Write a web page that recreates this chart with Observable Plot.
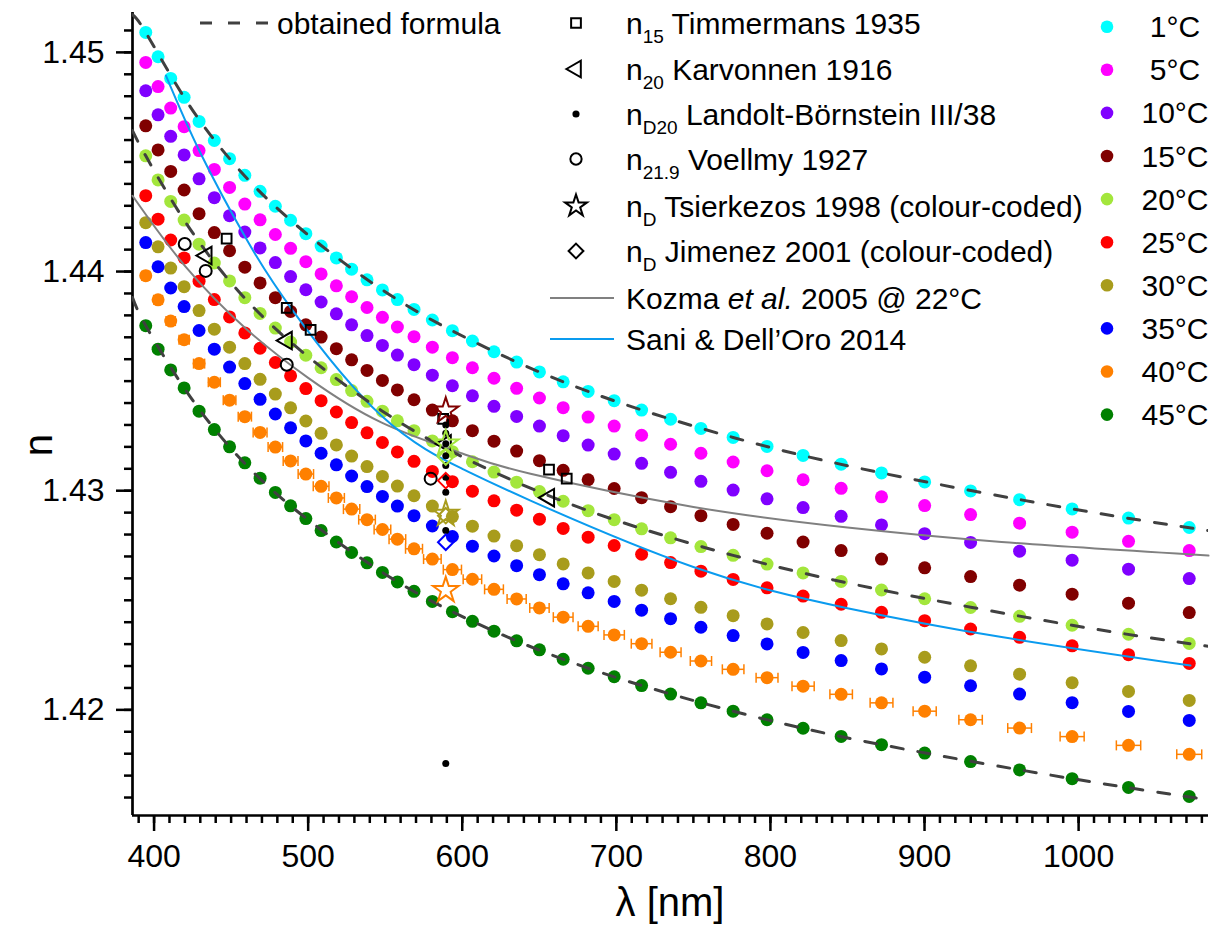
<!DOCTYPE html>
<html><head><meta charset="utf-8">
<script src="https://cdn.jsdelivr.net/npm/d3@7"></script>
<script src="https://cdn.jsdelivr.net/npm/@observablehq/plot@0.6"></script>
<style>
body{margin:0;background:#fff}
#chart svg{font-family:Arial,"Liberation Sans",sans-serif}
</style>
</head><body><div id="chart"></div>
<script>
// Temperature series (°C) and their colours
const temperatures = [1, 5, 10, 15, 20, 25, 30, 35, 40, 45];
const seriesColors = ["#00FFFF", "#FF00FF", "#8000FF", "#800000", "#A3E63C", "#FF0000", "#A89C1C", "#0000FF", "#FF8000", "#008000"];

// Measurement wavelengths (nm)
const wavelengths = [394.6, 402.6, 410.8, 419.5, 429.2, 439.1, 449.0, 458.9, 468.8, 478.7, 488.6, 498.5, 508.4, 518.3, 528.2, 538.2, 548.2, 557.9, 568.7, 580.6, 593.6, 606.6, 620.6, 635.3, 650.1, 665.5, 681.7, 698.6, 716.4, 735.2, 754.9, 775.8, 797.8, 821.2, 845.9, 872.1, 900.1, 929.9, 961.7, 995.8, 1032.4, 1071.8];

// Refractive index at each wavelength, one list per temperature
const n01 = [1.45091, 1.44980, 1.44881, 1.44795, 1.44685, 1.44598, 1.44515, 1.44439, 1.44366, 1.44298, 1.44234, 1.44173, 1.44116, 1.44062, 1.44011, 1.43962, 1.43916, 1.43872, 1.43827, 1.43779, 1.43730, 1.43683, 1.43634, 1.43587, 1.43542, 1.43497, 1.43453, 1.43411, 1.43368, 1.43326, 1.43284, 1.43243, 1.43202, 1.43161, 1.43121, 1.43081, 1.43040, 1.42999, 1.42959, 1.42917, 1.42875, 1.42832];
const n05 = [1.44954, 1.44844, 1.44746, 1.44661, 1.44552, 1.44466, 1.44384, 1.44308, 1.44236, 1.44169, 1.44106, 1.44045, 1.43989, 1.43935, 1.43885, 1.43836, 1.43791, 1.43747, 1.43703, 1.43655, 1.43607, 1.43561, 1.43513, 1.43467, 1.43423, 1.43379, 1.43336, 1.43295, 1.43253, 1.43212, 1.43171, 1.43131, 1.43091, 1.43050, 1.43011, 1.42972, 1.42932, 1.42891, 1.42852, 1.42811, 1.42769, 1.42727];
const n10 = [1.44825, 1.44715, 1.44617, 1.44532, 1.44423, 1.44337, 1.44255, 1.44180, 1.44108, 1.44041, 1.43977, 1.43917, 1.43861, 1.43807, 1.43757, 1.43708, 1.43663, 1.43619, 1.43575, 1.43527, 1.43479, 1.43433, 1.43385, 1.43339, 1.43295, 1.43251, 1.43208, 1.43167, 1.43125, 1.43084, 1.43043, 1.43003, 1.42963, 1.42923, 1.42883, 1.42844, 1.42804, 1.42764, 1.42724, 1.42683, 1.42642, 1.42599];
const n15 = [1.44665, 1.44555, 1.44457, 1.44372, 1.44264, 1.44178, 1.44095, 1.44020, 1.43948, 1.43881, 1.43818, 1.43757, 1.43701, 1.43648, 1.43597, 1.43549, 1.43503, 1.43460, 1.43415, 1.43368, 1.43319, 1.43274, 1.43226, 1.43181, 1.43137, 1.43093, 1.43050, 1.43010, 1.42968, 1.42927, 1.42886, 1.42846, 1.42806, 1.42766, 1.42727, 1.42688, 1.42648, 1.42608, 1.42569, 1.42528, 1.42487, 1.42444];
const n20 = [1.44528, 1.44418, 1.44320, 1.44235, 1.44125, 1.44039, 1.43957, 1.43881, 1.43809, 1.43742, 1.43678, 1.43618, 1.43561, 1.43507, 1.43457, 1.43408, 1.43363, 1.43319, 1.43274, 1.43227, 1.43178, 1.43132, 1.43085, 1.43039, 1.42996, 1.42952, 1.42909, 1.42868, 1.42826, 1.42785, 1.42745, 1.42705, 1.42665, 1.42625, 1.42586, 1.42547, 1.42507, 1.42467, 1.42427, 1.42386, 1.42345, 1.42303];
const n25 = [1.44346, 1.44239, 1.44144, 1.44062, 1.43956, 1.43872, 1.43793, 1.43720, 1.43650, 1.43585, 1.43524, 1.43466, 1.43411, 1.43359, 1.43311, 1.43264, 1.43220, 1.43177, 1.43134, 1.43088, 1.43041, 1.42998, 1.42954, 1.42911, 1.42870, 1.42828, 1.42788, 1.42750, 1.42710, 1.42672, 1.42633, 1.42595, 1.42557, 1.42519, 1.42482, 1.42445, 1.42407, 1.42369, 1.42331, 1.42292, 1.42252, 1.42212];
const n30 = [1.44223, 1.44113, 1.44016, 1.43931, 1.43822, 1.43737, 1.43655, 1.43580, 1.43508, 1.43441, 1.43378, 1.43318, 1.43262, 1.43209, 1.43158, 1.43110, 1.43065, 1.43021, 1.42977, 1.42930, 1.42882, 1.42838, 1.42793, 1.42749, 1.42708, 1.42666, 1.42625, 1.42586, 1.42546, 1.42507, 1.42468, 1.42430, 1.42392, 1.42353, 1.42316, 1.42278, 1.42240, 1.42201, 1.42163, 1.42124, 1.42084, 1.42043];
const n35 = [1.44132, 1.44022, 1.43925, 1.43840, 1.43731, 1.43646, 1.43564, 1.43489, 1.43417, 1.43350, 1.43287, 1.43227, 1.43171, 1.43118, 1.43067, 1.43019, 1.42974, 1.42930, 1.42886, 1.42839, 1.42791, 1.42747, 1.42702, 1.42658, 1.42617, 1.42575, 1.42534, 1.42495, 1.42455, 1.42416, 1.42377, 1.42339, 1.42301, 1.42262, 1.42225, 1.42187, 1.42149, 1.42110, 1.42072, 1.42033, 1.41993, 1.41952];
const n40 = [1.43981, 1.43871, 1.43774, 1.43689, 1.43580, 1.43495, 1.43413, 1.43338, 1.43266, 1.43199, 1.43136, 1.43076, 1.43020, 1.42967, 1.42916, 1.42868, 1.42823, 1.42779, 1.42735, 1.42688, 1.42640, 1.42596, 1.42550, 1.42506, 1.42465, 1.42423, 1.42381, 1.42342, 1.42302, 1.42263, 1.42223, 1.42185, 1.42147, 1.42108, 1.42071, 1.42032, 1.41994, 1.41955, 1.41917, 1.41878, 1.41838, 1.41797];
const n45 = [1.43753, 1.43646, 1.43551, 1.43469, 1.43363, 1.43279, 1.43200, 1.43127, 1.43057, 1.42992, 1.42931, 1.42873, 1.42818, 1.42766, 1.42718, 1.42671, 1.42627, 1.42584, 1.42541, 1.42495, 1.42448, 1.42404, 1.42359, 1.42315, 1.42274, 1.42231, 1.42190, 1.42151, 1.42111, 1.42072, 1.42032, 1.41994, 1.41955, 1.41916, 1.41879, 1.41841, 1.41803, 1.41764, 1.41726, 1.41686, 1.41646, 1.41605];
// Wavelength uncertainty (± nm) of the 40 °C series
const err40 = [2.5, 2.8, 3.0, 3.3, 3.6, 3.9, 4.1, 4.3, 4.5, 4.7, 4.8, 5.0, 5.1, 5.2, 5.3, 5.4, 5.4, 5.4, 5.5, 5.7, 5.9, 6.0, 6.1, 6.2, 6.3, 6.4, 6.5, 6.6, 6.7, 6.8, 6.9, 7.0, 7.1, 7.2, 7.3, 7.4, 7.5, 7.6, 7.7, 7.8, 7.9, 8.1];

// Obtained formula at 1, 20 and 45 °C (sampled along the curve)
const fitLambda = [386, 394.6, 419.5, 449.0, 488.6, 548.2, 606.6, 681.7, 775.8, 872.1, 995.8, 1084.3];
const fit01 = [1.45172, 1.45091, 1.44795, 1.44515, 1.44234, 1.43916, 1.43683, 1.43453, 1.43243, 1.43081, 1.42917, 1.42818];
const fit20 = [1.44643, 1.44528, 1.44235, 1.43957, 1.43678, 1.43363, 1.43132, 1.42909, 1.42705, 1.42547, 1.42386, 1.42290];
const fit45 = [1.43881, 1.43753, 1.43469, 1.43200, 1.42931, 1.42627, 1.42404, 1.42190, 1.41994, 1.41841, 1.41686, 1.41590];

// Kozma et al. 2005 @ 22 °C
const kozmaLambda = [386, 420, 460, 500, 547.4, 600, 644.3, 750, 850, 950, 1084.3];
const kozmaN = [1.44346, 1.44026, 1.43737, 1.43515, 1.43312, 1.43170, 1.43077, 1.42926, 1.42832, 1.42766, 1.42704];
// Sani & Dell'Oro 2014
const saniLambda = [407.7, 430, 460, 490, 547.4, 600, 644.3, 750, 850, 950, 1072.6];
const saniN = [1.44894, 1.44542, 1.44147, 1.43822, 1.43343, 1.43100, 1.42955, 1.42652, 1.42464, 1.42332, 1.42202];

// Literature values
const timmermansLambda = [447.1, 486.1, 501.6, 587.6, 656.3, 667.8];
const timmermansN = [1.44150, 1.43834, 1.43734, 1.43328, 1.43096, 1.43055];
const karvonnenLambda = [434.0, 486.1, 589.3, 656.3];
const karvonnenN = [1.44073, 1.43685, 1.43214, 1.42968];
const voellmyLambda = [419.9, 433.5, 486.1, 579.5];
const voellmyN = [1.44126, 1.44003, 1.43575, 1.43055];
const landoltN = [1.43300, 1.43262, 1.43214, 1.43160, 1.43115, 1.43061, 1.42993, 1.42818, 1.41755];
const tsierkezosT = [15, 20, 30, 40];
const tsierkezosN = [1.43365, 1.43215, 1.42894, 1.42546];
const jimenezT = [20, 25, 30, 35];
const jimenezN = [1.43154, 1.43046, 1.42886, 1.42765];

const seriesN = [n01, n05, n10, n15, n20, n25, n30, n35, n40, n45];
const points = temperatures.flatMap((t, i) =>
  wavelengths.map((l, j) => ({T: t, lambda: l, n: seriesN[i][j]})));
const bars = wavelengths.map((l, j) => ({lambda: l, n: n40[j], e: err40[j]}));
const colorOf = t => seriesColors[temperatures.indexOf(t)];
const curve = (xs, ys) => xs.map((x, i) => ({lambda: x, n: ys[i]}));

const xDomain = [386, 1084.3];
const yDomain = [1.41518, 1.45182];
// vertical cap drawn at the ends of the error bars
const capSymbol = {draw(ctx, size) { const r = Math.sqrt(size / Math.PI); ctx.moveTo(0, -r); ctx.lineTo(0, r); }};

const chart = Plot.plot({
  width: 1216, height: 926,
  marginLeft: 132, marginRight: 8, marginTop: 12, marginBottom: 111,
  x: {domain: xDomain},
  y: {domain: yDomain},
  color: {type: "ordinal", domain: temperatures, range: seriesColors},
  style: {fontFamily: "Arial, 'Liberation Sans', sans-serif", color: "#000", background: "#fff"},
  marks: [
    Plot.axisX({ticks: d3.range(390, 1081, 10), tickSize: 8, strokeWidth: 2.5, tickFormat: () => "", label: null}),
    Plot.axisX({ticks: d3.range(400, 1001, 100), tickSize: 16, strokeWidth: 2.5, tickPadding: 13, fontSize: 32, tickFormat: d => String(d), label: null}),
    Plot.axisY({ticks: d3.range(1416, 1452).map(v => v / 1000), tickSize: 8, strokeWidth: 2.5, tickFormat: () => "", label: null}),
    Plot.axisY({ticks: [1.42, 1.43, 1.44, 1.45], tickSize: 16, strokeWidth: 2.5, tickPadding: 12, fontSize: 32, tickFormat: d3.format(".2f"), label: null}),
    Plot.ruleX([xDomain[0]], {strokeWidth: 2.7}),
    Plot.ruleY([yDomain[0]], {strokeWidth: 2.7}),
    // 40 °C wavelength error bars
    Plot.link(bars, {x1: d => d.lambda - d.e, x2: d => d.lambda + d.e, y1: "n", y2: "n", stroke: "#FF8000", strokeWidth: 1.5}),
    Plot.dot(bars, {x: d => d.lambda - d.e, y: "n", symbol: capSymbol, r: 5, stroke: "#FF8000", strokeWidth: 1.5}),
    Plot.dot(bars, {x: d => d.lambda + d.e, y: "n", symbol: capSymbol, r: 5, stroke: "#FF8000", strokeWidth: 1.5}),
    Plot.dot(points, {x: "lambda", y: "n", fill: "T", r: 6.5}),
    // curves
    Plot.line(curve(kozmaLambda, kozmaN), {x: "lambda", y: "n", stroke: "#808080", strokeWidth: 2, curve: "natural"}),
    Plot.line(curve(saniLambda, saniN), {x: "lambda", y: "n", stroke: "#0A9BEF", strokeWidth: 2, curve: "natural"}),
    ...[fit01, fit20, fit45].map(f => Plot.line(curve(fitLambda, f), {x: "lambda", y: "n", stroke: "#404040", strokeWidth: 3, strokeDasharray: "12,15", curve: "natural", clip: true})),
    // literature values
    Plot.dot(curve(timmermansLambda, timmermansN), {x: "lambda", y: "n", symbol: "square", r: 5.5, stroke: "#000", strokeWidth: 2, fill: "none"}),
    Plot.dot(curve(karvonnenLambda, karvonnenN), {x: "lambda", y: "n", symbol: "triangle", rotate: -90, r: 6.5, stroke: "#000", strokeWidth: 2, fill: "none"}),
    Plot.dot(curve(voellmyLambda, voellmyN), {x: "lambda", y: "n", symbol: "circle", r: 6, stroke: "#000", strokeWidth: 2, fill: "none"}),
    Plot.dot(landoltN.map(v => ({lambda: 589.3, n: v})), {x: "lambda", y: "n", r: 3.5, fill: "#000"}),
    Plot.dot(tsierkezosT.map((t, i) => ({lambda: 589.3, n: tsierkezosN[i], T: t})), {x: "lambda", y: "n", symbol: "star", r: 8, stroke: d => colorOf(d.T), strokeWidth: 2, fill: "none"}),
    Plot.dot(jimenezT.map((t, i) => ({lambda: 589.3, n: jimenezN[i], T: t})), {x: "lambda", y: "n", symbol: "diamond2", r: 7, stroke: d => colorOf(d.T), strokeWidth: 2, fill: "none"})
  ]
});
document.getElementById("chart").appendChild(chart);

// Axis titles and legends
const svg = d3.select(chart);
svg.append("text").attr("x", 670).attr("y", 916).attr("text-anchor", "middle").attr("font-size", 40).text("λ [nm]");
svg.append("text").attr("transform", "translate(52,445) rotate(-90)").attr("text-anchor", "middle").attr("font-size", 40).text("n");

const lg = svg.append("g").attr("font-size", 30).attr("fill", "#000").attr("text-anchor", "start");
lg.append("line").attr("x1", 200).attr("x2", 269).attr("y1", 23).attr("y2", 23)
  .attr("stroke", "#404040").attr("stroke-width", 3).attr("stroke-dasharray", "12,16");
lg.append("text").attr("x", 277).attr("y", 23).attr("dy", "0.35em").text("obtained formula");

const refEntries = [
  {sym: d3.symbolSquare, size: 95, sub: "15", label: " Timmermans 1935"},
  {sym: d3.symbolTriangle, size: 120, rot: -90, sub: "20", label: " Karvonnen 1916"},
  {sym: d3.symbolCircle, size: 40, fill: true, sub: "D20", label: " Landolt-Börnstein III/38"},
  {sym: d3.symbolCircle, size: 100, sub: "21.9", label: " Voellmy 1927"},
  {sym: d3.symbolStar, size: 150, sub: "D", label: " Tsierkezos 1998 (colour-coded)"},
  {sym: d3.symbolDiamond2, size: 140, sub: "D", label: " Jimenez 2001 (colour-coded)"}
];
const rowY = [23, 69, 114, 159, 206, 251];
refEntries.forEach((e, i) => {
  lg.append("path").attr("d", d3.symbol(e.sym, e.size)())
    .attr("transform", `translate(576,${rowY[i]}) rotate(${e.rot || 0})`)
    .attr("fill", e.fill ? "#000" : "none").attr("stroke", e.fill ? "none" : "#000").attr("stroke-width", 2);
  const t = lg.append("text").attr("x", 626).attr("y", rowY[i]).attr("dy", "0.35em");
  t.append("tspan").text("n");
  t.append("tspan").attr("font-size", 19).attr("dy", 9).text(e.sub);
  t.append("tspan").attr("dy", -9).text(e.label);
});
lg.append("line").attr("x1", 550).attr("x2", 614).attr("y1", 298).attr("y2", 298).attr("stroke", "#808080").attr("stroke-width", 2);
const tk = lg.append("text").attr("x", 626).attr("y", 298).attr("dy", "0.35em");
tk.append("tspan").text("Kozma ");
tk.append("tspan").attr("font-style", "italic").text("et al.");
tk.append("tspan").text(" 2005 @ 22°C");
lg.append("line").attr("x1", 550).attr("x2", 614).attr("y1", 339).attr("y2", 339).attr("stroke", "#0A9BEF").attr("stroke-width", 2);
lg.append("text").attr("x", 626).attr("y", 339).attr("dy", "0.35em").text("Sani & Dell’Oro 2014");

temperatures.forEach((t, i) => {
  const y = 26.7 + i * 43.1;
  lg.append("circle").attr("cx", 1107).attr("cy", y).attr("r", 6.3).attr("fill", seriesColors[i]);
  lg.append("text").attr("x", 1175).attr("y", y).attr("dy", "0.35em").attr("text-anchor", "middle").text(`${t}°C`);
});
</script></body></html>
